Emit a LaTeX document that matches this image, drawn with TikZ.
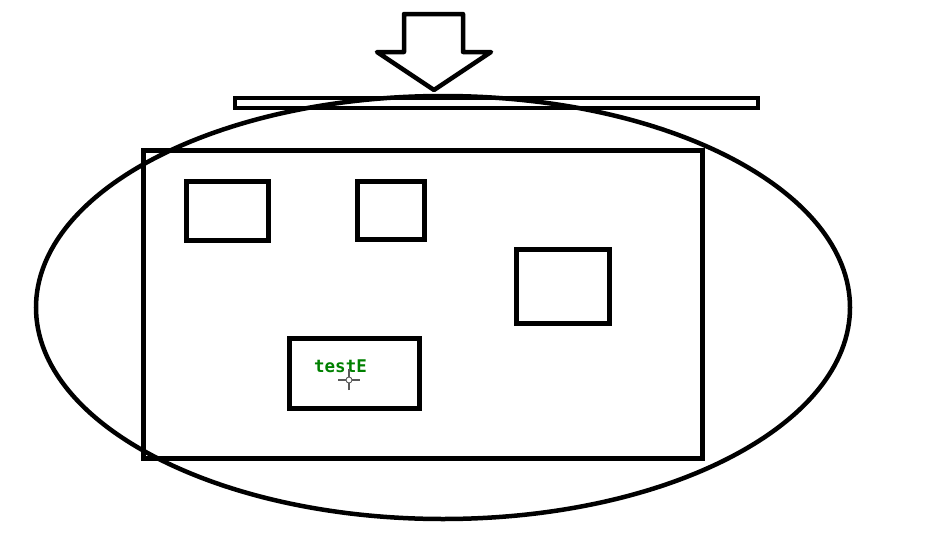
\documentclass[tikz,border=0pt]{standalone}
\usepackage{fontspec}
\newfontfamily\monofont{DejaVu Sans Mono}
\definecolor{textgreen}{RGB}{0,128,0}
\tikzset{
  shapeline/.style={draw=black, line width=5pt, line join=miter},
  boxshape/.style={shapeline, rectangle, inner sep=0pt, fill=none},
}
\begin{document}
\begin{tikzpicture}[x=1pt,y=-1pt]
\useasboundingbox[fill=white] (0,0) rectangle (950,546);
% ellipse
\draw[shapeline, line width=4.5pt] (443,307.5) ellipse [x radius=407, y radius=211.5];
% bar
\draw[shapeline, line width=4.5pt] (235,98) rectangle (758,108);
% arrow
\draw[shapeline, line width=4.5pt, line join=round]
  (404,14) -- (463,14) -- (463,52) -- (491,52) -- (434,90) -- (377,52) -- (404,52) -- cycle;
% big rectangle
\draw[shapeline] (143,150) rectangle (702,458);
% small boxes
\node[boxshape, minimum width=82pt, minimum height=59pt] (b1) at (227,210.5) {};
\node[boxshape, minimum width=67pt, minimum height=58pt] (b2) at (390.5,210) {};
\node[boxshape, minimum width=93pt, minimum height=74pt] (b3) at (562.5,286) {};
\node[boxshape, minimum width=130pt, minimum height=70pt] (b4) at (354,373) {};
\node[text=textgreen, font=\monofont\bfseries\fontsize{17.5}{18}\selectfont, inner sep=0pt] (t) at (340.5,366.5) {testE};
% cursor crosshair
\coordinate (c) at (349,380);
\draw[gray!70!black, line width=1.2pt] ([xshift=-11pt]c) -- ([xshift=-3pt]c) ([xshift=3pt]c) -- ([xshift=11pt]c)
  ([yshift=-10pt]c) -- ([yshift=-3pt]c) ([yshift=3pt]c) -- ([yshift=11pt]c);
\draw[gray!70!black, line width=0.9pt] (c) circle (3pt);
\end{tikzpicture}
\end{document}
